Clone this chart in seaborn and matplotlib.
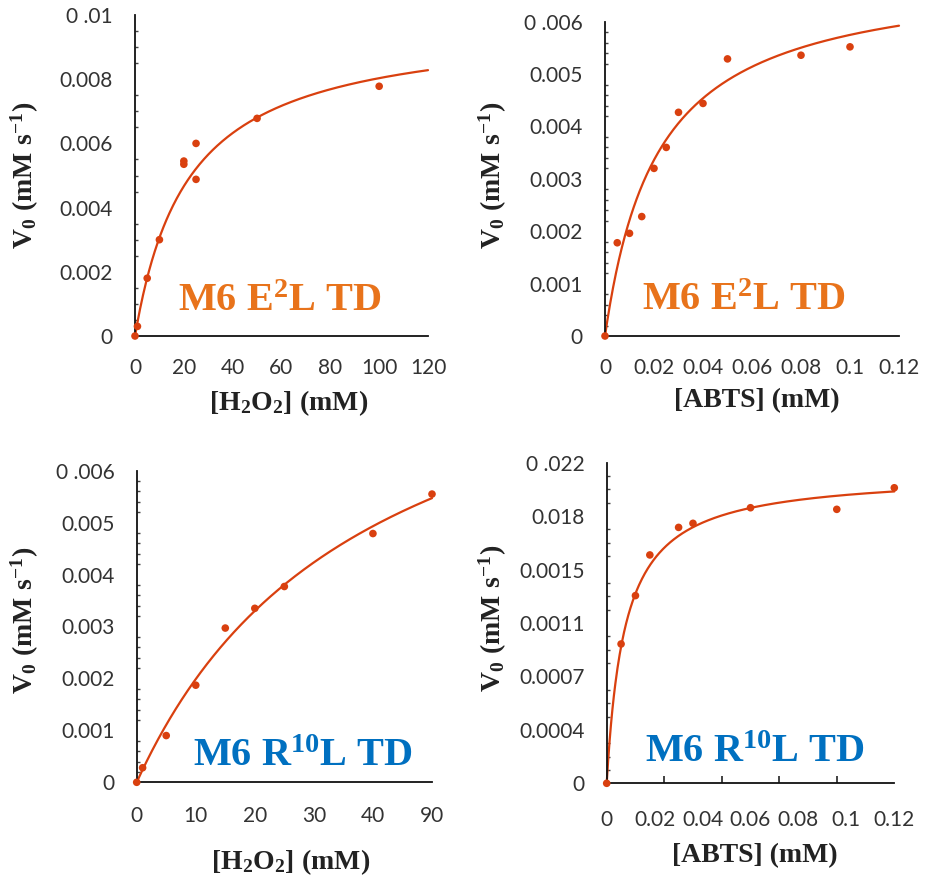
import numpy as np
import pandas as pd
import matplotlib
matplotlib.use("Agg")
import matplotlib.pyplot as plt
import seaborn as sns
from matplotlib.ticker import AutoMinorLocator, FixedLocator

# ---------------- data ----------------
# Panel A: M6 E2L TD, varying H2O2
e2l_h2o2_x = [0, 1, 5, 10, 20, 20, 25, 25, 50, 100]
e2l_h2o2_v = [0, 0.0003, 0.0018, 0.0030, 0.00545, 0.00535, 0.0060, 0.00488, 0.00678, 0.00778]
e2l_h2o2_km, e2l_h2o2_vmax = 22.0, 0.0098

# Panel B: M6 E2L TD, varying ABTS
e2l_abts_x = [0, 0.005, 0.01, 0.015, 0.02, 0.025, 0.03, 0.04, 0.05, 0.08, 0.1]
e2l_abts_v = [0, 0.00178, 0.00196, 0.00228, 0.0032, 0.0036, 0.00427, 0.00444, 0.00529, 0.00536, 0.00552]
e2l_abts_km, e2l_abts_vmax = 0.0216, 0.00699

# Panel C: M6 R10L TD, varying H2O2 (last point drawn at axis position 50, labelled "90")
r10l_h2o2_x = [0, 1, 5, 10, 15, 20, 25, 40, 50]
r10l_h2o2_v = [0, 0.00028, 0.0009, 0.00187, 0.00297, 0.00335, 0.00377, 0.00479, 0.00555]
r10l_h2o2_km, r10l_h2o2_vmax = 39.0, 0.00974

# Panel D: M6 R10L TD, varying ABTS
r10l_abts_x = [0, 0.005, 0.01, 0.015, 0.025, 0.03, 0.05, 0.08, 0.1]
r10l_abts_v = [0, 0.000956, 0.001288, 0.001567, 0.001756, 0.001784, 0.001891, 0.00188, 0.002028]
r10l_abts_km, r10l_abts_vmax = 0.00636, 0.00213

# tick labels (as printed in the reference)
xt_h2o2_a = ["0", "20", "40", "60", "80", "100", "120"]
xt_abts = ["0", "0.02", "0.04", "0.06", "0.08", "0.1", "0.12"]
xt_h2o2_c = ["0", "10", "20", "30", "40", "90"]
yt_a = ["0", "0.002", "0.004", "0.006", "0.008", "0 .01"]
yt_b = ["0", "0.001", "0.002", "0.003", "0.004", "0.005", "0 .006"]
yt_d = ["0", "0.0004", "0.0007", "0.0011", "0.0015", "0.018", "0 .022"]

title_e2l = r"M6 E$^{\mathbf{2}}$L TD"
title_r10l = r"M6 R$^{\mathbf{10}}$L TD"
ylab = r"$\mathbf{V_0\ (mM\ s^{-1})}$"
xlab_h2o2 = r"$\mathbf{[H_2O_2]\ (mM)}$"
xlab_abts = "[ABTS] (mM)"

# ---------------- style ----------------
sns.set_theme(style="white")
plt.rcParams["font.family"] = ["Lato", "DejaVu Sans"]
plt.rcParams["mathtext.fontset"] = "custom"
plt.rcParams["mathtext.bf"] = "Liberation Serif:bold"
plt.rcParams["mathtext.rm"] = "Liberation Serif:bold"
plt.rcParams["mathtext.it"] = "Liberation Serif:bold"

MARK = "#D9400F"
ORANGE = "#E8731B"
BLUE = "#0070C0"
W, H = 925, 875
fig = plt.figure(figsize=(W / 100, H / 100), dpi=100)

panels = [
    dict(box=(135, 428, 15, 336), x=e2l_h2o2_x, v=e2l_h2o2_v, km=e2l_h2o2_km, vm=e2l_h2o2_vmax,
         xlim=(0, 120), ylim=(0, 0.01), xtl=xt_h2o2_a, ytl=yt_a, yminor=4, xend=120,
         title=title_e2l, tcol=ORANGE, tpos=(178, 311), xlab=xlab_h2o2, xlpos=(289, 388),
         ylpos=(41, 175), xpad=15.5),
    dict(box=(605, 899, 21.7, 336), x=e2l_abts_x, v=e2l_abts_v, km=e2l_abts_km, vm=e2l_abts_vmax,
         xlim=(0, 0.12), ylim=(0, 0.006), xtl=xt_abts, ytl=yt_b, yminor=5, xend=0.12,
         title=title_e2l, tcol=ORANGE, tpos=(642, 310), xlab=xlab_abts, xlpos=(757, 388),
         ylpos=(509, 175), xpad=15.5),
    dict(box=(136.7, 432, 470.7, 782.3), x=r10l_h2o2_x, v=r10l_h2o2_v, km=r10l_h2o2_km, vm=r10l_h2o2_vmax,
         xlim=(0, 50), ylim=(0, 0.006), xtl=xt_h2o2_c, ytl=yt_b, yminor=5, xend=50,
         title=title_r10l, tcol=BLUE, tpos=(193, 766), xlab=xlab_h2o2, xlpos=(291, 847),
         ylpos=(41, 620), xpad=17),
    dict(box=(606.7, 894.3, 462.7, 783.3), x=r10l_abts_x, v=r10l_abts_v, km=r10l_abts_km, vm=r10l_abts_vmax,
         xlim=(0, 0.1), ylim=(0, 0.0022), xtl=xt_abts, ytl=yt_d, yminor=4, xend=0.1,
         title=title_r10l, tcol=BLUE, tpos=(645, 762), xlab=xlab_abts, xlpos=(755, 843),
         ylpos=(509, 618), split_x=True, xpad=19),
]

for p in panels:
    l, r, t, b = p["box"]
    ax = fig.add_axes([l / W, 1 - b / H, (r - l) / W, (b - t) / H])
    ax.set_facecolor("none")

    def afx(px, l=l, r=r):
        return (px - l) / (r - l)

    def afy(py, t=t, b=b):
        return (b - py) / (b - t)

    # fitted Michaelis-Menten curve
    xs = np.linspace(0, p["xend"], 400)
    curve = pd.DataFrame({"S": xs, "V": p["vm"] * xs / (p["km"] + xs)})
    sns.lineplot(data=curve, x="S", y="V", ax=ax, color=MARK, lw=1.6, clip_on=False)
    pts = pd.DataFrame({"S": p["x"], "V": p["v"]})
    sns.scatterplot(data=pts, x="S", y="V", ax=ax, color=MARK, s=30, edgecolor="none",
                    clip_on=False, zorder=5)

    ax.set_xlim(*p["xlim"])
    ax.set_ylim(*p["ylim"])
    for s in ["top", "right"]:
        ax.spines[s].set_visible(False)
    for s in ["left", "bottom"]:
        ax.spines[s].set_color("#111111")
        ax.spines[s].set_linewidth(1.3)

    # y ticks
    ny = len(p["ytl"])
    ax.set_yticks(np.linspace(p["ylim"][0], p["ylim"][1], ny), p["ytl"])
    ax.yaxis.set_minor_locator(AutoMinorLocator(p["yminor"]))
    # x ticks
    nx = len(p["xtl"])
    ax.set_xticks(np.linspace(p["xlim"][0], p["xlim"][1], nx), p["xtl"])
    if p.get("split_x"):
        ax.xaxis.set_minor_locator(FixedLocator(np.linspace(p["xlim"][0], p["xlim"][1], 6)))
        ax.tick_params(axis="x", which="major", length=0, pad=p["xpad"])
        ax.tick_params(axis="x", which="minor", direction="in", length=5, width=1.2,
                       color="#222222", bottom=True)
    else:
        ax.tick_params(axis="x", which="major", direction="in", length=5, width=1.2,
                       color="#222222", pad=p["xpad"])
    ax.tick_params(axis="y", which="major", direction="in", length=5, width=1.2,
                   color="#222222", pad=16)
    ax.tick_params(axis="y", which="minor", direction="in", length=2.5, width=1.0,
                   color="#444444", left=True)
    ax.tick_params(axis="both", which="major", labelsize=15, labelcolor="#333333")

    ax.set_xlabel(p["xlab"], fontsize=20, family="Liberation Serif", fontweight="bold",
                  color="#222222")
    ax.xaxis.set_label_coords(afx(p["xlpos"][0]), afy(p["xlpos"][1]))
    ax.set_ylabel(ylab, fontsize=20, color="#222222")
    ax.yaxis.set_label_coords(afx(p["ylpos"][0]), afy(p["ylpos"][1]))

    ax.text(afx(p["tpos"][0]), afy(p["tpos"][1]), p["title"], transform=ax.transAxes,
            ha="left", va="baseline", fontsize=29, color=p["tcol"],
            family="Liberation Serif", fontweight="bold")

fig.savefig("out.png", dpi=100, facecolor="white")
